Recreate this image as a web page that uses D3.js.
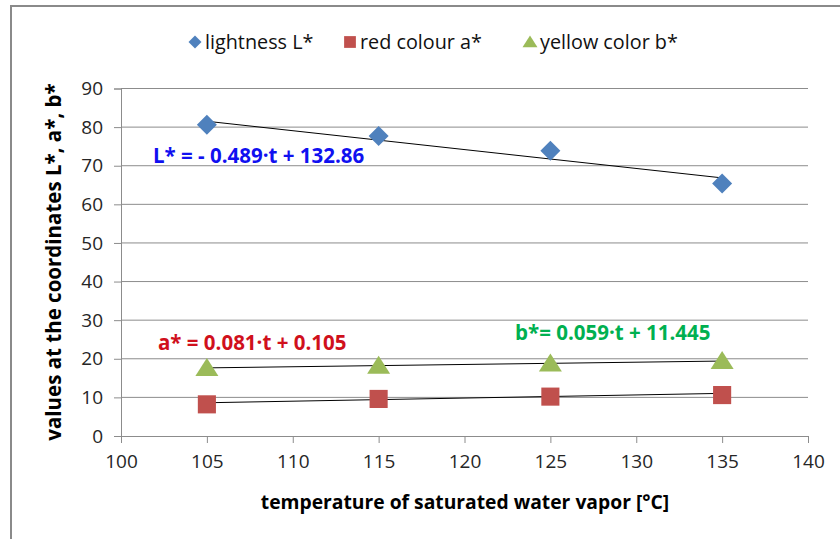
<!DOCTYPE html>
<html lang="en">
<head>
  <meta charset="UTF-8">
  <title>L*, a*, b* vs temperature</title>
  <script src="https://d3js.org/d3.v7.min.js"></script>
  <style>
    body { margin: 0; background: #fff; }
    svg { display: block; font-family: "Open Sans", "Liberation Sans", sans-serif; }
  </style>
</head>
<body>
  <svg width="840" height="539"></svg>
  <script>
    // values
    const temps = [105, 115, 125, 135];
    const lightness = [80.6, 77.7, 73.9, 65.4];
    const redA = [8.2, 9.6, 10.2, 10.6];
    const yellowB = [17.6, 18.2, 18.8, 19.4];

    // linear trend coefficients as printed on the chart [slope, intercept]
    const trendL = [-0.489, 132.86];
    const trendA = [0.081, 0.105];
    const trendB = [0.059, 11.445];

    const xTicks = [100, 105, 110, 115, 120, 125, 130, 135, 140];
    const yTicks = [0, 10, 20, 30, 40, 50, 60, 70, 80, 90];

    const series = [
      { name: "lightness L*", values: lightness, trend: trendL, color: "#4F81BD", shape: "diamond",
        label: "L* = - 0.489·t + 132.86", labelColor: "#1010F0", lx: 101.86, ly: 70.7 },
      { name: "red colour a*", values: redA, trend: trendA, color: "#C0504D", shape: "square",
        label: "a* = 0.081·t + 0.105", labelColor: "#D0101C", lx: 102.15, ly: 22.3 },
      { name: "yellow color b*", values: yellowB, trend: trendB, color: "#9BBB59", shape: "triangle",
        label: "b*= 0.059·t + 11.445", labelColor: "#00B050", lx: 122.94, ly: 24.9 }
    ];

    const svg = d3.select("svg");

    // outer chart frame (only top and left edges visible)
    svg.append("path")
      .attr("d", "M11,545 V6 H845")
      .attr("fill", "none")
      .attr("stroke", "#8a8a8a")
      .attr("stroke-width", 2);

    const x = d3.scaleLinear().domain([100, 140]).range([121, 808]);
    const y = d3.scaleLinear().domain([0, 90]).range([436, 88.5]);

    // gridlines
    svg.append("g")
      .selectAll("line")
      .data(yTicks.slice(1))
      .join("line")
      .attr("x1", x(100)).attr("x2", x(140))
      .attr("y1", d => y(d)).attr("y2", d => y(d))
      .attr("stroke", "#8c8c8c")
      .attr("stroke-width", 1);

    // axes
    const gX = svg.append("g")
      .attr("transform", `translate(0,${y(0)})`)
      .call(d3.axisBottom(x).tickValues(xTicks).tickSize(7).tickPadding(12));
    const gY = svg.append("g")
      .attr("transform", `translate(${x(100)},0)`)
      .call(d3.axisLeft(y).tickValues(yTicks).tickSize(7).tickPadding(11));

    [gX, gY].forEach(g => {
      g.select(".domain").attr("stroke", "#8c8c8c");
      g.selectAll(".tick line").attr("stroke", "#8c8c8c");
      g.selectAll(".tick text")
        .attr("fill", "#262626")
        .style("font-size", "19px")
        .style("font-family", "'Open Sans', sans-serif");
    });

    // axis titles
    svg.append("text")
      .attr("x", 465).attr("y", 509)
      .attr("text-anchor", "middle")
      .style("font-size", "19.3px").style("font-weight", "bold")
      .text("temperature of saturated water vapor [°C]");

    svg.append("text")
      .attr("transform", "translate(61,262) rotate(-90)")
      .attr("text-anchor", "middle")
      .style("font-size", "20.5px").style("font-weight", "bold")
      .text("values at the coordinates L*, a*, b*");

    // trend lines
    series.forEach(s => {
      const x0 = temps[0], x1 = temps[temps.length - 1];
      svg.append("line")
        .attr("x1", x(x0)).attr("y1", y(s.trend[0] * x0 + s.trend[1]))
        .attr("x2", x(x1)).attr("y2", y(s.trend[0] * x1 + s.trend[1]))
        .attr("stroke", "#000")
        .attr("stroke-width", 1);
    });

    // marker shapes
    function marker(sel, shape, r) {
      if (shape === "diamond") {
        sel.attr("d", d3.symbol().type(d3.symbolSquare).size(2 * r * r))
          .attr("transform", function() { return d3.select(this).attr("transform") + " rotate(45)"; });
      } else if (shape === "square") {
        sel.attr("d", d3.symbol().type(d3.symbolSquare).size(4 * r * r * 0.82));
      } else {
        sel.attr("d", `M0,${-r}L${r * 1.15},${r * 0.8}L${-r * 1.15},${r * 0.8}Z`);
      }
      return sel;
    }

    // markers
    series.forEach(s => {
      svg.append("g")
        .selectAll("path")
        .data(temps.map((t, i) => ({ t, v: s.values[i] })))
        .join("path")
        .attr("transform", d => `translate(${x(d.t)},${y(d.v)})`)
        .attr("fill", s.color)
        .call(marker, s.shape, 10);
    });

    // equation labels
    series.forEach(s => {
      svg.append("text")
        .attr("x", x(s.lx)).attr("y", y(s.ly))
        .attr("fill", s.labelColor)
        .style("font-size", "20.5px").style("font-weight", "bold")
        .text(s.label);
    });

    // legend
    const legendX = [195, 350, 530];
    const legend = svg.append("g");
    series.forEach((s, i) => {
      legend.append("path")
        .attr("transform", `translate(${legendX[i]},42)`)
        .attr("fill", s.color)
        .call(marker, s.shape, 6.5);
      legend.append("text")
        .attr("x", legendX[i] + 10).attr("y", 49)
        .style("font-size", "19.8px")
        .attr("fill", "#111")
        .text(s.name);
    });
  </script>
</body>
</html>
